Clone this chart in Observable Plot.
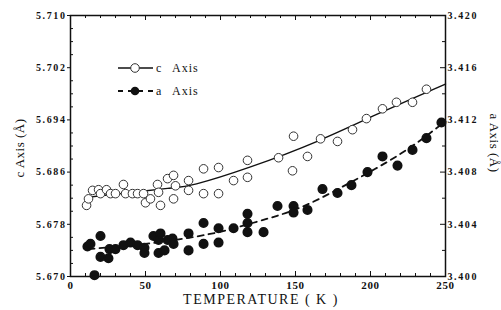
<!DOCTYPE html>
<html><head><meta charset="utf-8">
<script src="https://cdn.jsdelivr.net/npm/d3@7"></script>
<script src="https://cdn.jsdelivr.net/npm/@observablehq/plot@0.6"></script>
<style>
body{margin:0;background:#fff;}
#wrap{width:501px;height:310px;}
</style></head><body><div id="wrap"></div>
<script>
// c-axis lattice parameter (open circles, left axis, Å)
const cTemp = [10.7,12,14.7,18.7,20,24,26.7,30,35.3,36.7,41.3,44.7,48.7,50,53.3,58,58.7,60,64.7,68.7,68.7,70,78.7,78.7,88.7,88.7,98.7,98.7,108.7,118,118,138.7,148.7,148,158,166.7,178,188,197.3,208,217.3,228,237.3];
const cVal  = [5.6809,5.6819,5.6832,5.6833,5.6827,5.6833,5.6827,5.6827,5.6841,5.6827,5.6827,5.6827,5.6827,5.6813,5.6819,5.6841,5.6829,5.6809,5.6850,5.6855,5.6819,5.6839,5.6847,5.6832,5.6865,5.6827,5.6867,5.6827,5.6847,5.6878,5.6852,5.6882,5.6915,5.6862,5.6884,5.6911,5.6907,5.6925,5.6942,5.6957,5.6967,5.6967,5.6987];
// a-axis lattice parameter (filled circles, right axis, Å)
const aTemp = [11.3,13.3,16,20,20,25.3,26,30,35.3,40,44.7,49.3,49.3,55.3,58.7,60,58.7,62.7,64.7,68,68.7,78.7,78.7,88.7,88.7,98.7,98.7,108.7,118,118,118,128.7,138,148.7,148.7,158,168,178,187.3,198,208,218,228,237.3,247.3];
const aVal  = [3.4023,3.4025,3.4001,3.4031,3.4015,3.4014,3.4021,3.4021,3.4024,3.4026,3.4024,3.4022,3.4018,3.4031,3.4028,3.4033,3.4018,3.4020,3.4028,3.4029,3.4025,3.4033,3.4020,3.4041,3.4025,3.4037,3.4026,3.4037,3.4048,3.4041,3.4034,3.4034,3.4054,3.4054,3.4049,3.4051,3.4067,3.4064,3.4070,3.4080,3.4092,3.4085,3.4097,3.4106,3.4118];
// fitted curves
const cFitT = [10,33.3,64.7,84,120,165.3,206.7,250];
const cFitV = [5.6821,5.6827,5.6835,5.6842,5.6868,5.6908,5.6951,5.6995];
const aFitT = [12,42,70,98.7,121.3,151.3,183.3,220,250];
const aFitV = [3.4021,3.4024,3.4028,3.4034,3.4041,3.4052,3.4070,3.4094,3.4119];
// ticks
const xMajor = [0,50,100,150,200,250];
const xMinor = [10,20,30,40,60,70,80,90,110,120,130,140,160,170,180,190,210,220,230,240];
const cTicks = [5.670,5.678,5.686,5.694,5.702,5.710];
const cMinor = [5.672,5.674,5.676,5.680,5.682,5.684,5.688,5.690,5.692,5.696,5.698,5.700,5.704,5.706,5.708];
const aTicks = [3.400,3.404,3.408,3.412,3.416,3.420];
const aMinor = [3.402,3.406,3.410,3.414,3.418];

const aToC = a => 5.670 + (a - 3.400) * 2;
const cToA = c => (c - 5.670) / 2 + 3.400;

const cData = cTemp.map((t,i)=>({t, v:cVal[i]}));
const aData = aTemp.map((t,i)=>({t, v:aVal[i]}));
const cFit = cFitT.map((t,i)=>({t, v:cFitV[i]}));
const aFit = aFitT.map((t,i)=>({t, v:aFitV[i]}));

const W = 501, H = 310, mL = 70, mR = 56, mT = 15, mB = 34;
const pw = W - mL - mR, ph = H - mT - mB;

const chart = Plot.plot({
  width: W, height: H,
  marginLeft: mL, marginRight: mR, marginTop: mT, marginBottom: mB,
  x: {domain: [0, 250]},
  y: {domain: [5.670, 5.710]},
  style: {fontFamily: "Liberation Serif", background: "#fff", color: "#111"},
  marks: [
    Plot.line(cFit, {x: "t", y: "v", curve: "natural", stroke: "#111", strokeWidth: 1.4}),
    Plot.line(aFit, {x: "t", y: d => aToC(d.v), curve: "natural", stroke: "#111", strokeWidth: 1.8, strokeDasharray: "6,5"}),
    Plot.dot(cData, {x: "t", y: "v", r: 4.3, fill: "#fff", stroke: "#333", strokeWidth: 1}),
    Plot.dot(aData, {x: "t", y: d => aToC(d.v), r: 4.3, fill: "#111", stroke: "#111"}),
    Plot.frame({stroke: "#111", strokeWidth: 1.5}),
    // left axis
    Plot.axisY(cTicks, {anchor: "left", tickSize: 3, tickPadding: 1, tickFormat: d => d.toFixed(3), fontSize: 10, fontWeight: "bold", label: null}),
    Plot.tickY(cMinor, {y: d => d, insetRight: pw - 3, stroke: "#111"}),
    // right axis
    Plot.axisY(aTicks.map(aToC), {anchor: "right", tickSize: 0, tickPadding: 2, tickFormat: d => cToA(d).toFixed(3), fontSize: 10, fontWeight: "bold", label: null}),
    Plot.tickY(aTicks.map(aToC), {y: d => d, insetLeft: pw - 5, stroke: "#111"}),
    Plot.tickY(aMinor.map(aToC), {y: d => d, insetLeft: pw - 3, stroke: "#111"}),
    // bottom axis
    Plot.axisX(xMajor, {anchor: "bottom", tickSize: 0, tickPadding: 5, fontSize: 11, fontWeight: "bold", label: null}),
    Plot.tickX(xMajor, {x: d => d, insetTop: ph - 5, stroke: "#111"}),
    Plot.tickX(xMinor, {x: d => d, insetTop: ph - 3, stroke: "#111"}),
    // top inner ticks
    Plot.tickX(xMajor, {x: d => d, insetBottom: ph - 5, stroke: "#111"}),
    Plot.tickX(xMinor, {x: d => d, insetBottom: ph - 3, stroke: "#111"})
  ]
});
document.getElementById("wrap").appendChild(chart);

const svg = d3.select(chart);
svg.selectAll('g[aria-label="y-axis tick label"] text').attr("letter-spacing", "1.6px");
svg.selectAll('g[aria-label="x-axis tick label"] text').attr("letter-spacing", "0.6px");

const g = svg.append("g").attr("font-family", "Liberation Serif").attr("fill", "#111");
// axis titles
g.append("text").attr("transform", "translate(21,148) rotate(-90)").attr("text-anchor", "middle")
  .attr("dominant-baseline", "middle").attr("font-size", 13).attr("letter-spacing", "0.5px").text("c Axis (Å)");
g.append("text").attr("transform", "translate(493,143) rotate(90)").attr("text-anchor", "middle")
  .attr("dominant-baseline", "middle").attr("font-size", 13).attr("letter-spacing", "0.5px").text("a Axis (Å)");
g.append("text").attr("x", 261).attr("y", 304).attr("text-anchor", "middle")
  .attr("font-size", 14).attr("letter-spacing", "1.5px").text("TEMPERATURE ( K )");
// legend
const lg = g.append("g").attr("text-anchor", "start");
lg.append("line").attr("x1", 118).attr("x2", 153).attr("y1", 68).attr("y2", 68).attr("stroke", "#111").attr("stroke-width", 1.4);
lg.append("circle").attr("cx", 135).attr("cy", 68).attr("r", 4.3).attr("fill", "#fff").attr("stroke", "#333");
lg.append("text").attr("x", 156).attr("y", 72).attr("font-size", 12).text("c");
lg.append("text").attr("x", 172).attr("y", 72).attr("font-size", 12).attr("letter-spacing", "1px").text("Axis");
lg.append("line").attr("x1", 118).attr("x2", 154).attr("y1", 91).attr("y2", 91).attr("stroke", "#111").attr("stroke-width", 1.8).attr("stroke-dasharray", "5,5");
lg.append("circle").attr("cx", 135).attr("cy", 91).attr("r", 4.3).attr("fill", "#111");
lg.append("text").attr("x", 156).attr("y", 95).attr("font-size", 12).text("a");
lg.append("text").attr("x", 172).attr("y", 95).attr("font-size", 12).attr("letter-spacing", "1px").text("Axis");
</script></body></html>
